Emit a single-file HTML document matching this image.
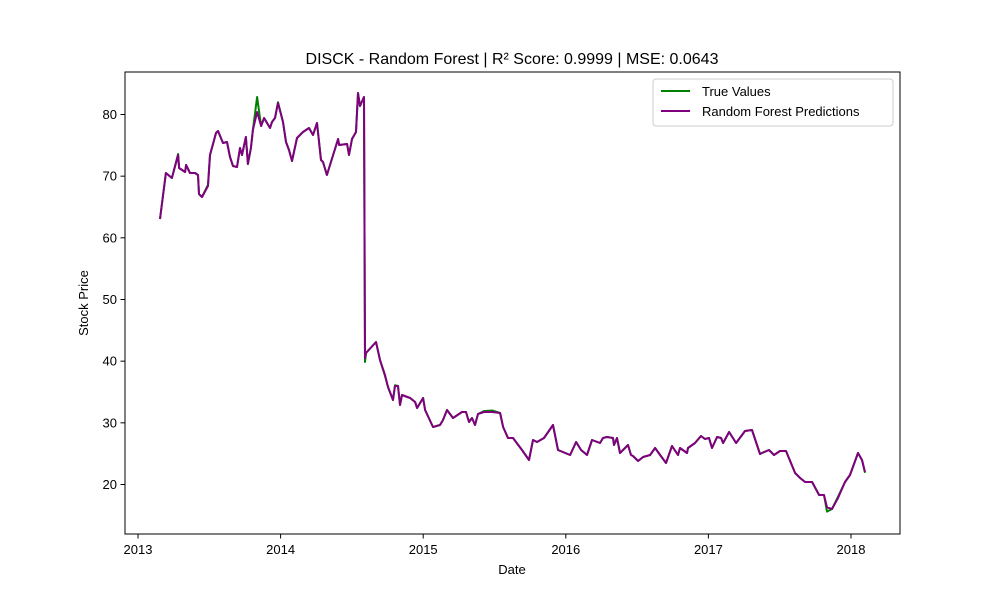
<!DOCTYPE html>
<html><head><meta charset="utf-8">
<style>body{margin:0;background:#fff;font-family:"Liberation Sans","DejaVu Sans",sans-serif}</style>
</head><body>
<svg width="1000" height="600" viewBox="0 0 1000 600">
<rect width="1000" height="600" fill="#fff"/>
<text x="512" y="64" text-anchor="middle" font-size="16">DISCK - Random Forest | R² Score: 0.9999 | MSE: 0.0643</text>
<g id="ticks"></g>
<g id="lines"></g>
<rect x="125" y="72" width="775" height="462" fill="none" stroke="#000" stroke-width="1"/>
<text x="512" y="574" text-anchor="middle" font-size="13">Date</text>
<text transform="translate(88,303) rotate(-90)" text-anchor="middle" font-size="13">Stock Price</text>
<g>
<rect x="653" y="79" width="240" height="47" rx="3" fill="#fff" stroke="#ccc"/>
<g><line x1="661" y1="91" x2="690" y2="91" stroke="green" stroke-width="2"/><text x="702" y="96" font-size="13">True Values</text></g>
<g><line x1="661" y1="111" x2="690" y2="111" stroke="purple" stroke-width="2"/><text x="702" y="116" font-size="13">Random Forest Predictions</text></g>
</g>
</svg>
<script>
const dates=[2013.154,2013.196,2013.238,2013.281,2013.288,2013.330,2013.337,2013.365,2013.400,2013.421,2013.428,2013.449,2013.491,2013.505,2013.547,2013.561,2013.596,2013.624,2013.645,2013.666,2013.694,2013.715,2013.729,2013.757,2013.771,2013.792,2013.806,2013.835,2013.863,2013.884,2013.926,2013.940,2013.961,2013.982,2014.017,2014.038,2014.059,2014.080,2014.115,2014.157,2014.199,2014.227,2014.255,2014.283,2014.297,2014.325,2014.403,2014.410,2014.466,2014.480,2014.501,2014.529,2014.543,2014.557,2014.585,2014.592,2014.599,2014.669,2014.697,2014.732,2014.753,2014.788,2014.802,2014.823,2014.837,2014.851,2014.908,2014.943,2014.957,2014.999,2015.013,2015.069,2015.118,2015.139,2015.167,2015.209,2015.272,2015.300,2015.321,2015.342,2015.363,2015.384,2015.426,2015.483,2015.539,2015.560,2015.595,2015.630,2015.693,2015.742,2015.770,2015.798,2015.847,2015.910,2015.945,2016.030,2016.072,2016.107,2016.149,2016.184,2016.240,2016.261,2016.289,2016.331,2016.338,2016.359,2016.380,2016.436,2016.457,2016.471,2016.507,2016.542,2016.591,2016.626,2016.661,2016.703,2016.745,2016.787,2016.801,2016.850,2016.857,2016.906,2016.948,2016.976,2017.004,2017.025,2017.061,2017.089,2017.103,2017.145,2017.194,2017.257,2017.306,2017.362,2017.376,2017.425,2017.460,2017.502,2017.544,2017.608,2017.643,2017.678,2017.727,2017.776,2017.811,2017.832,2017.867,2017.909,2017.958,2017.993,2018.049,2018.077,2018.098];
const predValues=[63.05,70.51,69.70,73.43,71.32,70.68,71.81,70.51,70.51,70.19,67.11,66.62,68.40,73.43,77.00,77.32,75.38,75.54,73.11,71.65,71.49,74.57,73.43,76.35,71.97,74.57,77.49,80.40,78.13,79.43,77.81,78.78,79.43,81.86,78.78,75.54,74.24,72.46,76.19,77.16,77.81,76.67,78.62,72.62,72.30,70.19,76.03,75.05,75.22,73.43,76.03,77.16,83.49,81.38,82.84,40.51,41.32,43.11,40.19,37.76,35.81,33.70,35.97,35.97,32.89,34.51,34.03,33.38,32.41,34.03,32.08,29.32,29.65,30.46,32.08,30.78,31.76,31.76,30.13,30.78,29.65,31.43,31.76,31.76,31.59,29.32,27.54,27.54,25.59,23.97,27.22,26.89,27.54,29.65,25.59,24.78,26.89,25.59,24.78,27.22,26.73,27.54,27.70,27.54,26.41,27.54,25.11,26.41,24.78,24.62,23.81,24.46,24.78,25.92,24.78,23.49,26.24,24.78,25.92,25.11,25.92,26.73,27.86,27.38,27.54,25.92,27.70,27.54,26.73,28.51,26.73,28.68,28.84,24.95,25.11,25.59,24.78,25.43,25.43,21.86,21.05,20.41,20.41,18.30,18.30,16.30,16.03,17.81,20.41,21.54,25.11,23.97,22.03];
const trueValues=[63.05,70.51,69.70,73.60,71.32,70.68,71.81,70.51,70.51,70.19,67.11,66.62,68.60,73.43,77.00,77.32,75.38,75.54,73.11,71.65,71.49,74.57,73.43,76.35,71.97,74.57,77.49,82.84,78.13,79.43,77.81,78.78,79.43,82.00,78.78,75.54,74.24,72.46,76.19,77.16,77.81,76.67,78.62,72.62,72.30,70.19,76.03,75.05,75.22,73.43,76.03,77.16,83.49,81.38,82.84,39.86,41.32,43.11,40.19,37.60,35.81,33.70,36.10,35.97,32.89,34.51,34.03,33.38,32.41,34.03,32.08,29.32,29.65,30.46,32.08,30.78,31.76,31.76,30.13,30.78,29.65,31.43,31.90,32.00,31.59,29.32,27.54,27.54,25.59,23.97,27.22,26.89,27.54,29.65,25.59,24.78,26.89,25.59,24.78,27.22,26.73,27.54,27.70,27.54,26.41,27.54,25.11,26.41,24.78,24.62,23.81,24.46,24.78,25.92,24.78,23.49,26.24,24.78,25.92,25.11,25.92,26.73,27.86,27.38,27.54,25.92,27.70,27.54,26.73,28.51,26.73,28.68,28.84,24.95,25.11,25.59,24.78,25.43,25.43,21.86,21.05,20.41,20.41,18.30,18.30,15.60,16.03,18.00,20.41,21.54,25.11,23.97,21.90];
const xTicks=[2013,2014,2015,2016,2017,2018];
const yTicks=[20,30,40,50,60,70,80];
const NS='http://www.w3.org/2000/svg';
function xs(t){return 138+(t-2013)*142.6;}
function ys(v){return 484.5-(v-20)*6.1667;}
const tg=document.getElementById('ticks');
xTicks.forEach(t=>{const x=xs(t);
 const l=document.createElementNS(NS,'line');l.setAttribute('x1',x);l.setAttribute('x2',x);l.setAttribute('y1',534);l.setAttribute('y2',538.5);l.setAttribute('stroke','#000');
 
 tg.appendChild(l);
 const tx=document.createElementNS(NS,'text');tx.setAttribute('x',x);tx.setAttribute('y',554);tx.setAttribute('text-anchor','middle');tx.setAttribute('font-size','13');tx.textContent=t;
 
 tg.appendChild(tx);});
yTicks.forEach(v=>{const y=ys(v);
 const l=document.createElementNS(NS,'line');l.setAttribute('x1',120.5);l.setAttribute('x2',125);l.setAttribute('y1',y);l.setAttribute('y2',y);l.setAttribute('stroke','#000');
 
 tg.appendChild(l);
 const tx=document.createElementNS(NS,'text');tx.setAttribute('x',117);tx.setAttribute('y',y+4.5);tx.setAttribute('text-anchor','end');tx.setAttribute('font-size','13');tx.textContent=v;
 
 tg.appendChild(tx);});
function path(vals,color,name){const p=document.createElementNS(NS,'path');
 p.setAttribute('d',vals.map((v,i)=>(i?'L':'M')+xs(dates[i]).toFixed(1)+','+ys(v).toFixed(1)).join(''));
 p.setAttribute('fill','none');p.setAttribute('stroke',color);p.setAttribute('stroke-width','2');p.setAttribute('stroke-linejoin','round');
 
 
 document.getElementById('lines').appendChild(p);}
path(trueValues,'green','true-values-line');
path(predValues,'purple','prediction-line');
</script>
</body></html>
